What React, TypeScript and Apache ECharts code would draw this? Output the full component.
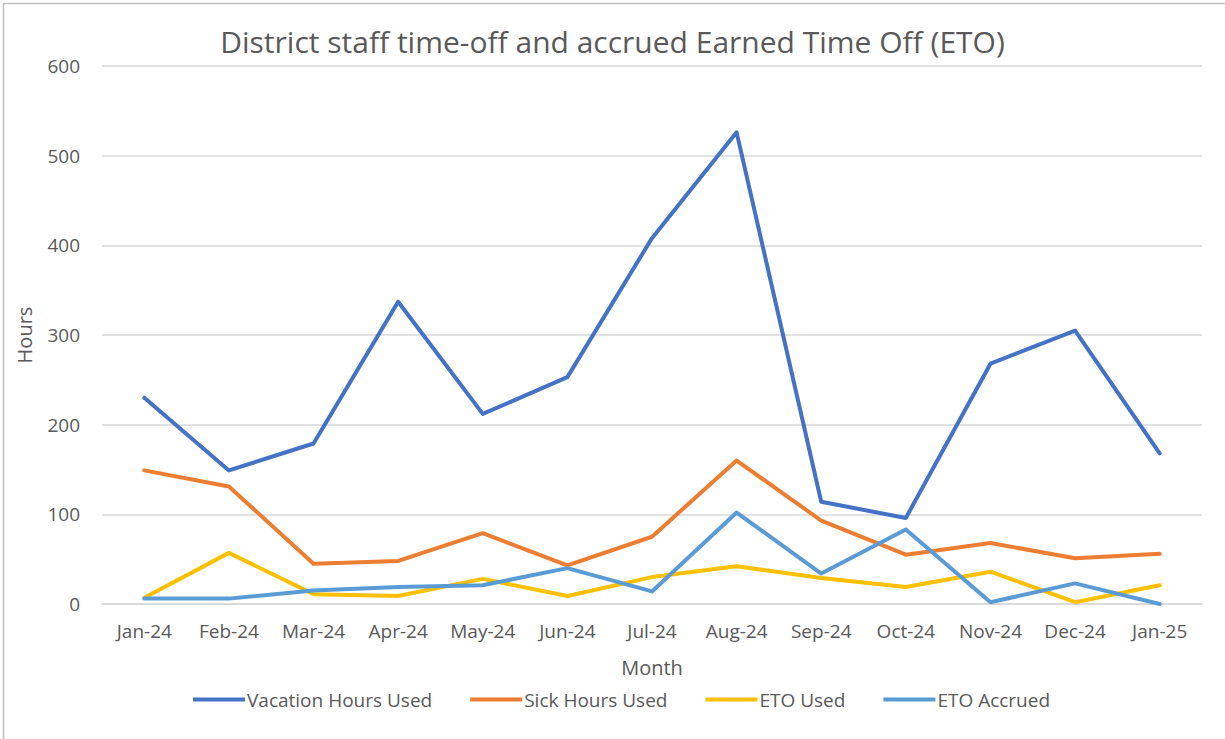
import React, { useEffect, useRef } from "react";
import * as echarts from "echarts";

const months = ["Jan-24","Feb-24","Mar-24","Apr-24","May-24","Jun-24","Jul-24","Aug-24","Sep-24","Oct-24","Nov-24","Dec-24","Jan-25"];
const vacationHours = [230, 149, 179, 337, 212, 253, 408, 526, 114, 96, 268, 305, 168];
const sickHours = [149, 131, 45, 48, 79, 43, 75, 160, 93, 55, 68, 51, 56];
const etoUsed = [7, 57, 11, 9, 28, 9, 30, 42, 29, 19, 36, 2, 21];
const etoAccrued = [6, 6, 15, 19, 21, 40, 14, 102, 34, 83, 2, 23, 0];
const yTicks = [0, 100, 200, 300, 400, 500, 600];

const FONT = "'Open Sans', sans-serif";
const GRAY = "#595959";

export default function App() {
  const ref = useRef<HTMLDivElement>(null);
  useEffect(() => {
    document.body.style.margin = "0";
    const chart = echarts.init(ref.current!, null, { renderer: "svg" });
    const mk = (name: string, data: number[], color: string) => ({
      name,
      type: "line",
      data,
      symbol: "none",
      lineStyle: { width: 4, color, cap: "round", join: "round" },
      itemStyle: { color },
    });
    chart.setOption({
      animation: false,
      backgroundColor: "#ffffff",
      textStyle: { fontFamily: FONT },
      title: {
        text: "District staff time-off and accrued Earned Time Off (ETO)",
        left: "center",
        top: 21,
        textStyle: { fontFamily: FONT, fontSize: 30, fontWeight: "normal", color: GRAY },
      },
      graphic: [
        {
          type: "rect",
          shape: { x: 3.5, y: 3.5, width: 1400, height: 900 },
          style: { fill: "none", stroke: "#bfbfbf", lineWidth: 1.5 },
          silent: true,
        },
      ],
      legend: {
        bottom: 25,
        left: 188,
        itemWidth: 52,
        itemHeight: 4,
        itemGap: 38,
        icon: "rect",
        textStyle: { fontFamily: FONT, fontSize: 19, color: GRAY, padding: [0, 0, 0, -3] },
        data: ["Vacation Hours Used", "Sick Hours Used", "ETO Used", "ETO Accrued"],
      },
      grid: { left: 102, right: 23, top: 66, bottom: 135, containLabel: false },
      xAxis: {
        type: "category",
        data: months,
        boundaryGap: true,
        name: "Month",
        nameLocation: "middle",
        nameGap: 53,
        nameTextStyle: { fontFamily: FONT, fontSize: 20, color: GRAY },
        axisLine: { show: true, lineStyle: { color: "#d9d9d9", width: 1.5 } },
        axisTick: { show: false },
        axisLabel: { fontFamily: FONT, fontSize: 19, color: GRAY, margin: 17 },
      },
      yAxis: {
        type: "value",
        min: yTicks[0],
        max: yTicks[yTicks.length - 1],
        interval: 100,
        name: "Hours",
        nameLocation: "middle",
        nameGap: 68,
        nameRotate: 90,
        nameTextStyle: { fontFamily: FONT, fontSize: 20, color: GRAY },
        axisLine: { show: false },
        axisTick: { show: false },
        axisLabel: { fontFamily: FONT, fontSize: 19, color: GRAY, margin: 22 },
        splitLine: { lineStyle: { color: "#d9d9d9", width: 1.5 } },
      },
      series: [
        mk("Vacation Hours Used", vacationHours, "#4472C4"),
        mk("Sick Hours Used", sickHours, "#ED7D31"),
        mk("ETO Used", etoUsed, "#FFC000"),
        mk("ETO Accrued", etoAccrued, "#5B9BD5"),
      ],
    });
    return () => chart.dispose();
  }, []);
  return <div ref={ref} style={{ width: 1225, height: 739 }} />;
}
